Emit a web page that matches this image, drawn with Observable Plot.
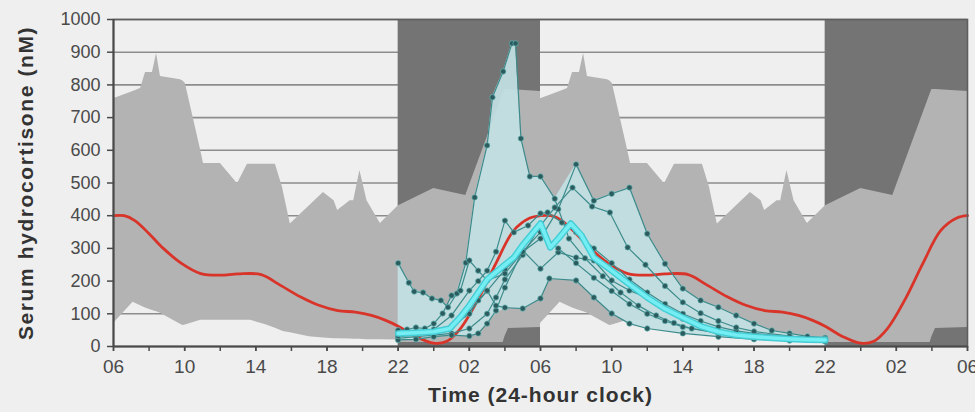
<!DOCTYPE html>
<html>
<head>
<meta charset="utf-8">
<script src="https://cdn.jsdelivr.net/npm/d3@7"></script>
<script src="https://cdn.jsdelivr.net/npm/@observablehq/plot@0.6"></script>
<style>
  html, body { margin: 0; padding: 0; background: #efefef; }
  #chart svg { display: block; }
</style>
</head>
<body>
<div id="chart"></div>
<script>
// ---- axis ticks (hours counted from 06:00 on day 1) ----
const xTickHours  = [0, 4, 8, 12, 16, 20, 24, 28, 32, 36, 40, 44, 48];
const xTickLabels = ["06","10","14","18","22","02","06","10","14","18","22","02","06"];
const xMinorHours = [0,2,4,6,8,10,12,14,16,18,20,22,24,26,28,30,32,34,36,38,40,42,44,46,48];
const yTicks      = [0,100,200,300,400,500,600,700,800,900,1000];
const gridValues  = [100,200,300,400,500,600,700,800,900,1000];
const yAxisTitle  = "Serum hydrocortisone (nM)";
const xAxisTitle  = "Time (24-hour clock)";

// ---- night periods (22:00-06:00) ----
const nightStart = [16, 40];
const nightEnd   = [24, 48];

// ---- normal range band, one 24 h cycle (repeated for day 2) ----
const bandHours = [0,1.1,1.52,1.8,2.19,2.42,2.64,3.76,3.9,4.04,4.9,5.06,6.01,6.97,7.53,7.7,8.6,9.1,9.5,9.6,9.94,11.0,11.8,12.4,12.6,13.3,13.5,13.85,14.25,15,16,16.05,18,19.8,21.9,22.0,22.2,24];
const bandUpper = [758,780,789,838,838,896,826,816,812,804,600,560,560,498,557,557,557,557,487,460,375,430,471,446,416,446,446,538,446,376,430,431,483,462,772,786,786,780];
const bandLower = [70,135,125,118,110,106,102,68,64,66,80,80,80,80,80,80,66,56,47,45,42,30,26,24,24,23,22,22,21,21,20,12,12,12,12,30,55,58];

// ---- normal mean profile (red), one 24 h cycle ----
const redHours  = [0,0.6,1.2,2.0,2.8,3.8,4.9,6,7,8.3,9.3,10.5,11.5,12.6,13.6,14.5,15.3,16,17,18,18.7,19.5,20.5,21.5,22.5,23.4,24];
const redValues = [400,400,385,345,300,255,223,218,222,220,190,152,127,110,105,95,80,62,30,10,15,55,145,255,355,393,400];

// ---- individual patient profiles [hour, nM] ----
const p1 = [[16,255],[16.6,195],[16.9,168],[17.4,165],[17.9,147],[18.4,141],[18.8,120],[19.3,162],[19.8,256],[20.3,456],[21,615],[21.3,762],[21.9,841],[22.4,927],[22.6,927],[22.9,636],[23.4,520],[24,520],[24.8,452],[25.6,330],[26.5,270],[27.5,215],[28.5,165],[29.5,125],[30.5,95],[31.5,72],[32.5,55],[34,42],[36,33],[38,27],[40,22]];
const p2 = [[16,30],[17,35],[18,42],[19,62],[20,105],[21,170],[22,235],[23,290],[24,330],[25,420],[26,557],[27,446],[28,467],[29,486],[30,345],[31,253],[32,177],[33,141],[34,120],[35,95],[36,70],[37,49],[38,40],[39,31],[40,27]];
const p3 = [[16,45],[17,42],[18,52],[19,95],[20,171],[20.5,200],[21,232],[21.5,290],[22,385],[22.5,349],[23.3,370],[24,407],[24.4,410],[25.2,379],[26,350],[27,300],[28,255],[29,205],[30,165],[31,130],[32,100],[33,78],[34,60],[35,48],[36,40],[38,30],[40,24]];
const p4 = [[16,25],[17,30],[18,35],[19,40],[20,55],[21,100],[21.5,150],[22,205],[23,280],[24,370],[24.8,425],[25.8,486],[26.9,428],[27.9,410],[28.9,303],[29.9,250],[31,185],[32,135],[33,102],[34,78],[35,58],[36,46],[38,32],[40,23]];
const p5 = [[16,20],[17,22],[18,30],[19,35],[20,32],[20.5,40],[21,70],[21.5,110],[22,180],[23,294],[24,238],[25,288],[26,272],[27,263],[28,202],[29,171],[30,150],[31,118],[32,85],[33,62],[34,45],[36,30],[38,22],[40,18]];
const p6 = [[16,32],[17,38],[18,45],[19,60],[20,100],[20.5,141],[21,171],[21.5,125],[22,119],[23,116],[24,147],[24.5,208],[26,202],[27,150],[28,101],[29,70],[30,55],[32,40],[34,30],[36,22],[38,18],[40,15]];
const p7 = [[16,50],[16.5,52],[17,58],[17.5,55],[18,70],[18.5,101],[19,156],[19.5,171],[20,263],[20.5,232],[21,202],[22,223],[23,290],[24,350],[25,300],[26,255],[27,210],[28,170],[29,130],[30,100],[31,78],[32,60],[34,40],[36,28],[38,22],[40,16]];

// ---- patient range envelope (light cyan fill) ----
const envHours = [16,16.6,17,17.4,18,18.4,18.8,19,19.3,19.8,20,20.3,20.5,21,21.3,21.5,21.9,22,22.4,22.6,22.9,23,23.4,24,24.5,24.8,26,27,28,29,30,31,32,33,34,35,36,37,38,39,40];
const envUpper = [255,195,168,165,147,141,120,156,165,256,336,456,503,615,762,790,841,857,927,927,636,613,520,520,480,452,557,446,467,486,345,253,177,141,120,95,70,49,40,31,27];
const envLower = [20,21,22,25,30,32,34,35,34,32,32,36,40,70,88,100,113,116,116,116,116,116,125,147,205,205,202,150,101,70,55,47,40,35,30,26,22,20,18,16,15];

// ---- patient mean (thick cyan) ----
const meanHours  = [16,17,18,18.9,19.5,20,21,22,22.5,23,24,24.55,25,25.7,26.3,27,28,29,30,31,32,33,34,35,36,37,38,39,40];
const meanValues = [40,42,45,55,90,125,205,250,272,310,376,303,330,376,340,272,232,190,150,115,88,62,45,35,30,26,23,21,20];

// ---- tables built from the arrays ----
const nights = nightStart.map((s, i) => ({start: s, end: nightEnd[i]}));
const bandTable = [0, 24].flatMap(off => bandHours.map((h, i) => ({h: h + off, lo: bandLower[i], hi: bandUpper[i]})));
const redTable = [0, 24].flatMap(off => redHours.map((h, i) => ({h: h + off, v: redValues[i]})))
  .filter((d, i, a) => i === 0 || d.h !== a[i - 1].h);
const patients = [p1, p2, p3, p4, p5, p6, p7];
const patientRows = patients.flatMap((p, k) => p.map(([h, v]) => ({id: k, h, v})));
const envTable = envHours.map((h, i) => ({h, lo: envLower[i], hi: envUpper[i]}));
const meanTable = meanHours.map((h, i) => ({h, v: meanValues[i]}));

const fontFamily = "'Liberation Sans', Arial, Helvetica, sans-serif";

const chart = Plot.plot({
  width: 975,
  height: 412,
  marginLeft: 113,
  marginRight: 8,
  marginTop: 19,
  marginBottom: 66,
  style: {background: "#efefef", fontFamily, overflow: "visible"},
  x: {domain: [xTickHours[0], xTickHours[xTickHours.length - 1]], label: null},
  y: {domain: [yTicks[0], yTicks[yTicks.length - 1]], label: null},
  marks: [
    Plot.ruleY(gridValues, {stroke: "#8d8d8d", strokeWidth: 1.6}),
    Plot.rect(nights, {x1: "start", x2: "end", fill: "#747474"}),
    Plot.areaY(bandTable, {x: "h", y1: "lo", y2: "hi", fill: "#b3b3b3"}),
    Plot.areaY(envTable, {x: "h", y1: "lo", y2: "hi", fill: "#c3e0e2", fillOpacity: 0.93}),
    Plot.line(redTable, {x: "h", y: "v", stroke: "#d8342a", strokeWidth: 2.8, curve: "catmull-rom"}),
    Plot.line(patientRows, {x: "h", y: "v", z: "id", stroke: "#3c8b8c", strokeWidth: 1.2}),
    Plot.dot(patientRows, {x: "h", y: "v", r: 2.7, fill: "#2b5b5d", stroke: "#62b3b5", strokeWidth: 0.7}),
    Plot.line(meanTable, {x: "h", y: "v", stroke: "#45cdd5", strokeWidth: 6.5, strokeLinejoin: "round"}),
    Plot.line(meanTable, {x: "h", y: "v", stroke: "#74eef3", strokeWidth: 3.6, strokeLinejoin: "round"}),
    Plot.frame({stroke: "#5e5e5e", strokeWidth: 1.6}),
    Plot.ruleY([yTicks[0]], {stroke: "#4a4a4a", strokeWidth: 2}),
    Plot.ruleX([xTickHours[0]], {stroke: "#4a4a4a", strokeWidth: 2}),
    Plot.axisY(yTicks, {label: null, tickSize: 6, tickPadding: 7, fontSize: 18, color: "#4a4a4a", strokeWidth: 1.5,
      tickFormat: d => String(d)}),
    Plot.axisX(xMinorHours, {label: null, tickSize: 5, tickFormat: () => "", color: "#4a4a4a", strokeWidth: 1.5}),
    Plot.axisX(xTickHours, {label: null, tickSize: 5, tickPadding: 8, fontSize: 19, color: "#4a4a4a", strokeWidth: 1.5,
      tickFormat: d => xTickLabels[xTickHours.indexOf(d)]}),
    Plot.text([yAxisTitle], {frameAnchor: "left", textAnchor: "middle", dx: -87, rotate: -90, fontSize: 21, fontWeight: "bold", fill: "#333"}),
    Plot.text([xAxisTitle], {frameAnchor: "bottom", textAnchor: "middle", dy: 55, fontSize: 21, fontWeight: "bold", fill: "#333"})
  ]
});
// widen the two axis titles slightly (letter spacing) to match the reference
d3.select(chart).selectAll("text").each(function () {
  const t = this.textContent;
  if (t === yAxisTitle) this.setAttribute("letter-spacing", "1.6");
  if (t === xAxisTitle) this.setAttribute("letter-spacing", "1");
});
document.getElementById("chart").appendChild(chart);
</script>
</body>
</html>
